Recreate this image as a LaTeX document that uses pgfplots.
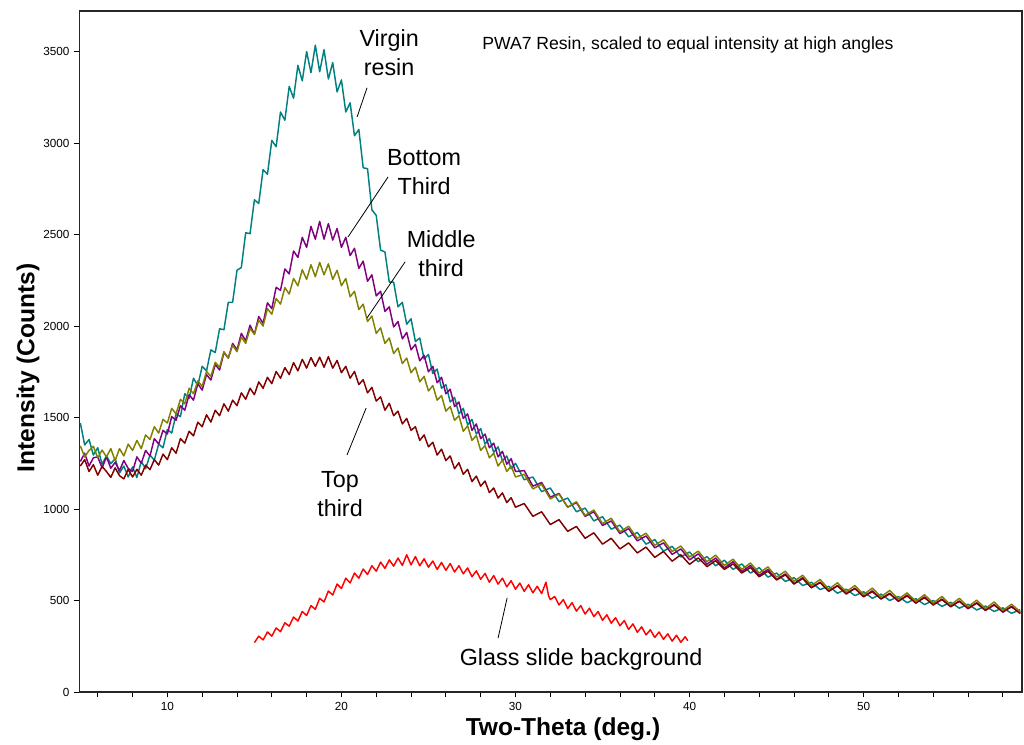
\documentclass[border=0pt]{standalone}
\usepackage{pgfplots}
\pgfplotsset{compat=1.18}
\usepackage{pgfplotstable}
\usepackage{fontspec}
\setmainfont{Liberation Sans}
\definecolor{cteal}{RGB}{0,128,128}
\definecolor{cpurple}{RGB}{128,0,128}
\definecolor{colive}{RGB}{128,128,0}
\definecolor{cmaroon}{RGB}{128,0,0}
\definecolor{cred}{RGB}{255,0,0}

% x, Virgin resin, Bottom third, Middle third, Top third
\pgfplotstableread{
x V B M T
5.00 1470 1260 1345 1235
5.25 1350 1305 1285 1270
5.50 1380 1235 1320 1205
5.75 1295 1280 1343 1242
6.00 1335 1285 1280 1185
6.25 1245 1225 1322 1233
6.50 1290 1285 1285 1205
6.75 1248 1223 1330 1173
7.00 1275 1255 1265 1225
7.25 1197 1210 1330 1182
7.50 1235 1265 1290 1165
7.75 1175 1222 1355 1217
8.00 1230 1205 1320 1175
8.25 1172 1285 1375 1217
8.50 1260 1250 1330 1185
8.75 1220 1320 1405 1240
9.00 1295 1290 1380 1215
9.25 1267 1385 1450 1270
9.50 1355 1355 1415 1240
9.75 1335 1430 1490 1300
10.00 1435 1410 1470 1270
10.25 1415 1505 1550 1335
10.50 1520 1485 1520 1305
10.75 1505 1565 1600 1385
11.00 1630 1540 1575 1360
11.25 1605 1625 1660 1425
11.50 1715 1595 1630 1400
11.75 1675 1685 1700 1475
12.00 1780 1650 1670 1450
12.25 1755 1735 1752 1515
12.50 1870 1705 1725 1475
12.75 1855 1790 1802 1540
13.00 1985 1760 1775 1510
13.25 1980 1855 1860 1575
13.50 2130 1825 1825 1535
13.75 2130 1905 1895 1595
14.00 2305 1870 1860 1565
14.25 2320 1960 1940 1635
14.50 2510 1920 1905 1600
14.75 2505 2005 1987 1660
15.00 2690 1955 1955 1625
15.25 2670 2052 2032 1695
15.50 2855 2015 2000 1660
15.75 2830 2127 2095 1720
16.00 3015 2095 2065 1685
16.25 2980 2212 2150 1752
16.50 3170 2195 2120 1715
16.75 3125 2312 2210 1773
17.00 3310 2285 2175 1735
17.25 3245 2410 2260 1800
17.50 3425 2375 2220 1755
17.75 3340 2485 2308 1818
18.00 3500 2430 2255 1770
18.25 3385 2545 2335 1828
18.50 3535 2475 2270 1780
18.75 3390 2572 2348 1830
19.00 3510 2475 2280 1775
19.25 3350 2560 2340 1833
19.50 3440 2470 2255 1770
19.75 3280 2533 2305 1812
20.00 3345 2430 2220 1745
20.25 3170 2485 2260 1780
20.50 3220 2385 2160 1715
20.75 3040 2425 2190 1752
21.00 3075 2315 2090 1680
21.25 2865 2355 2120 1707
21.50 2860 2245 2025 1635
21.75 2635 2280 2055 1665
22.00 2605 2165 1960 1590
22.25 2415 2190 1990 1613
22.50 2405 2080 1905 1540
22.75 2240 2105 1935 1578
23.00 2240 1995 1850 1510
23.25 2105 2025 1880 1535
23.50 2130 1930 1795 1465
23.75 2010 1965 1825 1495
24.00 2040 1870 1745 1430
24.25 1915 1900 1775 1450
24.50 1935 1810 1695 1375
24.75 1820 1840 1725 1405
25.00 1845 1750 1645 1340
25.25 1740 1780 1675 1365
25.50 1765 1690 1595 1295
25.75 1660 1720 1620 1327
26.00 1680 1630 1535 1265
26.25 1585 1655 1560 1290
26.50 1610 1560 1485 1220
26.75 1520 1585 1510 1253
27.00 1550 1495 1425 1190
27.25 1460 1520 1455 1217
27.50 1490 1430 1375 1150
27.75 1410 1465 1402 1180
28.00 1440 1385 1320 1125
28.25 1355 1410 1347 1153
28.50 1385 1335 1280 1090
28.75 1310 1360 1305 1115
29.00 1340 1285 1235 1060
29.25 1263 1315 1267 1088
29.50 1290 1245 1205 1035
29.75 1220 1275 1235 1062
30.00 1250 1205 1175 1010
30.50 1160 1210 1190 1030
31.00 1175 1125 1110 960
31.50 1095 1145 1135 985
32.00 1115 1065 1055 915
32.50 1040 1085 1082 942
33.00 1060 1010 1010 878
33.50 985 1035 1040 905
34.00 1005 960 965 840
34.50 935 985 995 870
35.00 958 910 920 808
35.50 890 935 950 840
36.00 912 866 875 782
36.50 848 893 906 815
37.00 872 826 840 760
37.50 808 853 868 792
38.00 833 788 802 736
38.50 770 815 832 768
39.00 796 752 768 715
39.50 738 782 798 750
40.00 765 722 738 698
40.50 712 755 770 733
41.00 740 698 712 685
41.50 690 732 748 718
42.00 720 678 692 670
42.50 670 712 726 700
43.00 700 658 670 650
43.50 650 692 705 680
44.00 680 638 650 630
44.50 628 670 684 660
45.00 650 615 628 612
45.50 604 645 660 640
46.00 625 592 605 590
46.50 582 625 638 620
47.00 600 570 582 570
47.50 560 600 615 598
48.00 578 550 562 552
48.50 540 582 597 580
49.00 562 535 548 538
49.50 527 568 582 565
50.00 548 520 532 522
50.50 512 553 568 548
51.00 535 508 520 510
51.50 500 540 555 536
52.00 522 495 508 498
52.50 488 530 542 525
53.00 510 485 496 488
53.50 478 520 532 515
54.00 500 475 486 478
54.50 468 508 522 505
55.00 490 465 476 468
55.50 458 498 512 495
56.00 480 455 466 458
56.50 448 488 502 485
57.00 470 445 456 448
57.50 440 478 492 475
58.00 460 436 446 440
58.50 430 468 480 465
59.00 450 428 438 432
}\resin

% Glass slide background
\pgfplotstableread{
x G
15.00 270
15.25 305
15.50 285
15.75 328
16.00 305
16.25 350
16.50 330
16.75 378
17.00 360
17.25 410
17.50 388
17.75 440
18.00 418
18.25 472
18.50 452
18.75 512
19.00 492
19.25 552
19.50 530
19.75 590
20.00 566
20.25 622
20.50 596
20.75 650
21.00 622
21.25 672
21.50 642
21.75 690
22.00 660
22.25 710
22.50 676
22.75 722
23.00 688
23.25 732
23.50 692
23.75 750
24.00 695
24.25 740
24.50 690
24.75 728
25.00 682
25.25 716
25.50 670
25.75 708
26.00 665
26.25 702
26.50 656
26.75 690
27.00 646
27.25 678
27.50 630
27.75 662
28.00 616
28.25 648
28.50 600
28.75 636
29.00 590
29.25 622
29.50 575
29.75 608
30.00 562
30.25 595
30.50 550
30.75 586
31.00 542
31.25 578
31.50 538
31.75 600
31.90 525
32.00 505
32.25 522
32.50 476
32.75 505
33.00 456
33.25 488
33.50 442
33.75 472
34.00 426
34.25 458
34.50 412
34.75 440
35.00 392
35.25 422
35.50 376
35.75 406
36.00 362
36.25 390
36.50 342
36.75 372
37.00 326
37.25 356
37.50 312
37.75 340
38.00 298
38.25 328
38.50 288
38.75 318
39.00 278
39.25 310
39.50 272
39.75 302
39.90 280
}\glass

\begin{document}
\begin{tikzpicture}
\begin{axis}[
  at={(0,0)}, anchor=south west,
  scale only axis, width=706.9pt, height=510.75pt,
  xmin=4.95, xmax=59.1, ymin=0, ymax=3722,
  axis line style={black!85, line width=0.8pt},
  tick align=outside, tick pos=left,
  xtick={10,20,30,40,50}, minor xtick={6,8,...,58},
  ytick={0,500,...,3500},
  major tick length=4pt, minor tick length=4pt,
  every tick/.style={black, line width=0.6pt},
  ticklabel style={font=\fontsize{8.8}{10}\selectfont},
  /pgf/number format/assume math mode=true,
  /pgf/number format/1000 sep={},
  xlabel={Two-Theta (deg.)}, ylabel={Intensity (Counts)},
  label style={font=\fontsize{18.4}{22}\selectfont\bfseries},
  xlabel style={at={(axis description cs:0.513,-0.054)}, anchor=center},
  ylabel style={at={(axis description cs:-0.0546,0.476)}, anchor=center},
  no markers,
  every axis plot/.append style={line width=1.1pt, line join=round},
]
\addplot[cteal] table[x=x,y=V]{\resin};
\addplot[cpurple] table[x=x,y=B]{\resin};
\addplot[cmaroon] table[x=x,y=T]{\resin};
\addplot[colive] table[x=x,y=M]{\resin};
\addplot[cred] table[x=x,y=G]{\glass};

\node[font=\fontsize{17.5}{21.75}\selectfont, align=center] at (axis cs:22.74,3496) {Virgin\\resin};
\draw[black, line width=0.6pt] (axis cs:21.47,3302) -- (axis cs:20.9,3143);
\node[font=\fontsize{17.5}{21.75}\selectfont, align=center] at (axis cs:24.75,2842) {Bottom\\Third};
\draw[black, line width=0.6pt] (axis cs:22.68,2815) -- (axis cs:20.38,2487);
\node[font=\fontsize{17.5}{21.75}\selectfont, align=center] at (axis cs:25.73,2394) {Middle\\third};
\draw[black, line width=0.6pt] (axis cs:23.66,2351) -- (axis cs:21.47,2044);
\node[font=\fontsize{17.5}{21.75}\selectfont, align=center] at (axis cs:19.92,1082) {Top\\third};
\draw[black, line width=0.6pt] (axis cs:21.42,1552) -- (axis cs:20.32,1295);
\node[font=\fontsize{17.5}{21.75}\selectfont] at (axis cs:33.77,180) {Glass slide background};
\draw[black, line width=0.6pt] (axis cs:29.52,514) -- (axis cs:29.0,295);
\node[font=\fontsize{13.2}{16}\selectfont, anchor=west, inner sep=0pt] at (axis cs:28.08,3537) {PWA7 Resin, scaled to equal intensity at high angles};
\end{axis}
\pgfresetboundingbox
\path[use as bounding box] (-59.6pt,-39.75pt) rectangle (708.4pt,519pt);
\end{tikzpicture}
\end{document}
